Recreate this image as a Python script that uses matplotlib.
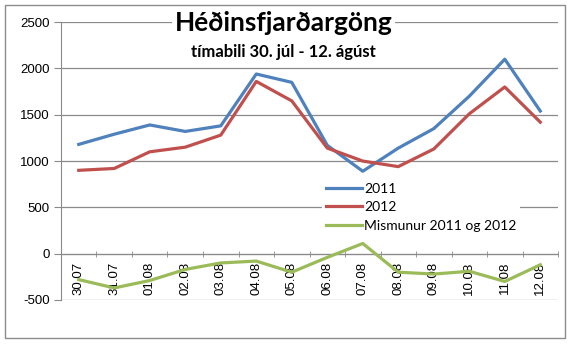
import numpy as np
import matplotlib
matplotlib.use("Agg")
import matplotlib.pyplot as plt
from matplotlib.patches import Rectangle

dagar = ["30.07", "31.07", "01.08", "02.08", "03.08", "04.08", "05.08",
         "06.08", "07.08", "08.08", "09.08", "10.08", "11.08", "12.08"]
umf_2011 = [1180, 1290, 1390, 1320, 1380, 1940, 1850, 1170, 890, 1140, 1350, 1700, 2100, 1540]
umf_2012 = [900, 920, 1100, 1150, 1280, 1860, 1650, 1140, 1000, 940, 1130, 1510, 1800, 1420]
mismunur = [-280, -370, -290, -170, -100, -80, -200, -40, 110, -200, -220, -190, -300, -120]
y_ticks = [-500, 0, 500, 1000, 1500, 2000, 2500]

fig = plt.figure(figsize=(5.7, 3.46), dpi=100)
fig.patch.set_facecolor("white")
fig.patches.append(Rectangle((0.009, 0.023), 0.982, 0.962, transform=fig.transFigure,
                             fill=False, edgecolor="#8c8c8c", linewidth=1.0))

ax = fig.add_axes([0.107, 0.133, 0.872, 0.803])
x = np.arange(len(dagar))

ax.plot(x, umf_2011, color="#4F81BD", lw=2.3, label="2011", zorder=3)
ax.plot(x, umf_2012, color="#C0504D", lw=2.3, label="2012", zorder=3)
ax.plot(x, mismunur, color="#9BBB59", lw=2.3, label="Mismunur 2011 og 2012", zorder=3)

ax.set_xlim(-0.5, len(dagar) - 0.5)
ax.set_ylim(-500, 2500)
ax.set_yticks(y_ticks)
ax.set_yticklabels([str(v) for v in y_ticks], fontsize=9.5, family="Liberation Sans")
ax.yaxis.grid(True, color="#8a8a8a", lw=0.9)
ax.set_axisbelow(True)

for s in ["top", "right"]:
    ax.spines[s].set_visible(False)
ax.spines["left"].set_color("#8a8a8a")
ax.spines["bottom"].set_position(("data", 0))
ax.spines["bottom"].set_color("#8a8a8a")
ax.tick_params(axis="y", length=5, color="#8a8a8a", pad=3)

ax.set_xticks(x)
ax.set_xticklabels(dagar, rotation=90, fontsize=9.5, family="Liberation Sans", va="top")
ax.set_xticks(np.arange(len(dagar) + 1) - 0.5, minor=True)
ax.tick_params(axis="x", which="major", length=0, pad=6)
ax.tick_params(axis="x", which="minor", length=5, direction="inout", color="#8a8a8a")

fig.text(0.497, 0.933, "Héðinsfjarðargöng", ha="center", va="center", fontsize=19,
         fontweight="bold", family="Lato",
         bbox=dict(facecolor="white", edgecolor="none", pad=2))
fig.text(0.497, 0.849, "tímabili 30. júl - 12. ágúst", ha="center", va="center",
         fontsize=12, fontweight="bold", family="Lato")

leg = ax.legend(loc="upper left", bbox_to_anchor=(0.553, 0.503), bbox_transform=fig.transFigure,
                frameon=True, fancybox=False, edgecolor="none", facecolor="white",
                framealpha=1, handlelength=2.6, handletextpad=0.1, labelspacing=0.45,
                borderpad=0.3, prop=dict(family="Lato", size=10))

fig.savefig("out.png", dpi=100)
